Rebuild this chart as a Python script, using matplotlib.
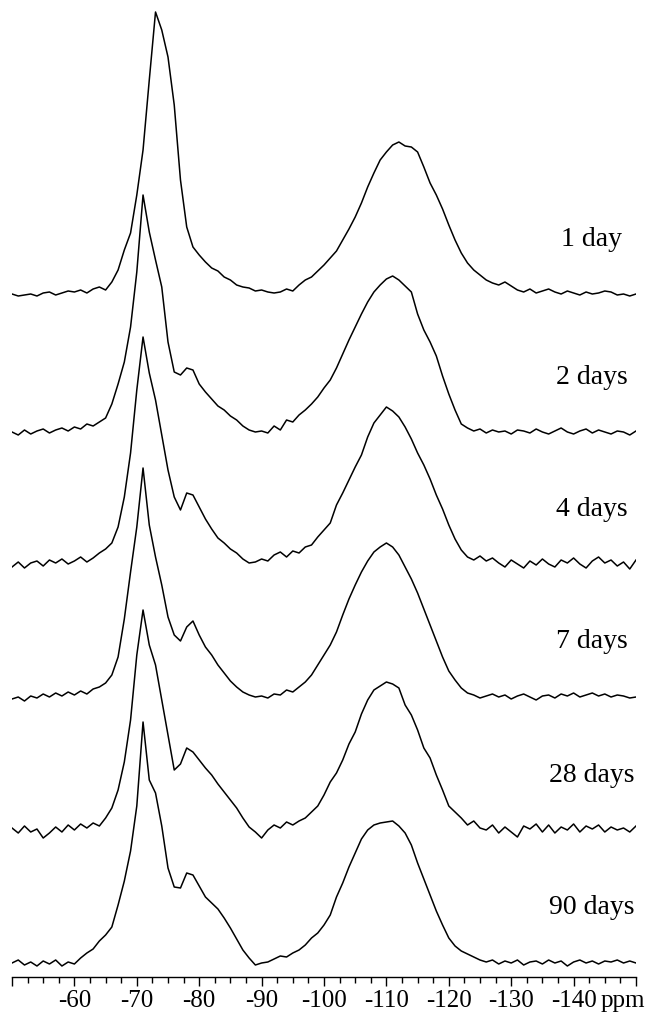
import numpy as np
import matplotlib.pyplot as plt
from matplotlib.ticker import MultipleLocator

# === chemical shift grid (ppm), 1 ppm steps from -50 to -150
ppm = np.arange(-50, -151, -1)

# === intensities (height above each baseline)
day1 = [1, -1, 0, 1, -1, 2, 3, 0, 2, 4, 3, 5, 2, 6, 8, 5, 13, 25, 45, 62,
        100, 145, 215, 283, 265, 238, 190, 115, 68, 48, 40, 33, 27, 24, 18, 15, 10, 8, 7, 4,
        5, 3, 2, 3, 6, 4, 10, 15, 18, 24, 30, 37, 44, 55, 66, 78, 92, 108, 122, 135,
        143, 150, 153, 149, 148, 143, 128, 112, 100, 86, 70, 55, 42, 32, 25, 20, 15, 12, 10, 13,
        9, 5, 3, 6, 2, 4, 6, 3, 1, 4, 2, 0, 3, 1, 2, 4, 3, 0, 1, -1, 1]
day2 = [0, -3, 2, -2, 1, 3, -1, 2, 4, 1, 5, 3, 8, 6, 10, 14, 28, 48, 70, 105,
        160, 237, 200, 172, 145, 90, 60, 57, 64, 62, 48, 40, 33, 26, 22, 16, 12, 6, 2, 0,
        1, -1, 6, 2, 12, 10, 17, 22, 28, 35, 44, 52, 64, 78, 92, 105, 118, 130, 140, 147,
        153, 156, 152, 146, 140, 118, 102, 90, 76, 56, 38, 22, 8, 4, 1, 3, -1, 2, 0, 1,
        -2, 2, 1, -1, 3, 0, -2, 1, 4, 0, -2, 1, 3, -1, 2, 0, -2, 1, 0, -3, 1]
day4 = [-2, 3, -3, 2, 4, -1, 5, 2, 6, 1, 4, 8, 3, 7, 12, 16, 22, 38, 68, 112,
        175, 228, 192, 165, 130, 95, 68, 55, 72, 70, 58, 46, 36, 27, 22, 16, 12, 6, 2, 3,
        6, 4, 10, 13, 8, 14, 12, 18, 20, 28, 35, 42, 60, 72, 85, 98, 110, 128, 142, 150,
        158, 154, 148, 138, 126, 112, 100, 86, 70, 56, 40, 26, 15, 8, 5, 9, 4, 7, 2, -2,
        5, 1, -3, 4, 0, 6, 1, -2, 5, 2, 7, 1, -3, 4, 8, 2, 5, -1, 3, -4, 5]
day7 = [-2, 0, -4, 1, -1, 3, 0, 4, 1, 5, 2, 6, 3, 8, 10, 14, 22, 40, 78, 125,
        170, 229, 172, 140, 112, 80, 62, 56, 70, 76, 62, 50, 42, 32, 24, 16, 10, 5, 2, 0,
        1, -1, 3, 2, 7, 5, 10, 15, 22, 32, 42, 52, 65, 82, 98, 112, 125, 136, 145, 150,
        154, 150, 142, 130, 118, 104, 88, 72, 56, 40, 26, 17, 9, 4, 2, -1, 1, 3, 0, 2,
        -2, 1, 3, 0, -3, 1, 2, -1, 3, 1, 4, 0, 2, 4, 1, 3, 0, 2, 1, -1, 0]
day28 = [2, -3, 4, -2, 1, -8, -3, 3, -2, 5, 0, 6, 2, 7, 4, 12, 22, 40, 68, 110,
         175, 220, 185, 165, 130, 95, 60, 66, 82, 78, 70, 62, 55, 46, 38, 30, 22, 12, 3, -2,
         -8, 0, 5, 2, 8, 5, 9, 12, 18, 24, 35, 48, 57, 70, 86, 98, 116, 130, 140, 144,
         148, 146, 142, 125, 115, 100, 82, 72, 55, 40, 24, 18, 12, 5, 9, 2, 0, 5, -3, 3,
         -2, -7, 4, 1, 6, -2, 5, -3, 3, 0, 6, -2, 4, 1, 5, -2, 3, 0, 2, -2, 4]
day90 = [0, 3, -2, 1, -3, 2, -1, 3, -3, 1, -1, 5, 10, 14, 22, 28, 36, 58, 82, 112,
         157, 241, 183, 170, 137, 95, 76, 75, 90, 88, 77, 66, 60, 54, 45, 35, 24, 13, 5, -2,
         0, 1, 4, 7, 6, 10, 13, 18, 25, 30, 38, 48, 66, 80, 96, 110, 124, 133, 138, 140,
         141, 142, 137, 130, 118, 100, 84, 68, 52, 38, 25, 17, 12, 9, 6, 3, 1, 3, -1, 2,
         0, 3, -2, 1, 2, -1, 3, 0, 2, -3, 1, 3, 0, 2, -1, 2, 1, 3, 0, 2, 0]

spectra = [day1, day2, day4, day7, day28, day90]
labels = ["1 day", "2 days", "4 days", "7 days", "28 days", "90 days"]

# === vertical stacking (baseline of each trace)
offsets = [682, 545, 412, 280, 147, 14]

plt.rcParams['axes.unicode_minus'] = False
serif = ['Liberation Serif', 'DejaVu Serif']

fig = plt.figure(figsize=(6.46, 10.19), dpi=100)
ax = fig.add_axes([12 / 646, 42 / 1019, 624 / 646, 977 / 1019])

for spec, off, lab in zip(spectra, offsets, labels):
    ax.plot(ppm, np.array(spec) + off, color='black', lw=1.1)
    ax.text(-142.9, off + 55, lab, ha='center', va='center',
            fontsize=20, family=serif)

ax.set_xlim(-50, -150)
ax.set_ylim(0, 977)

# === axis styling: only the bottom scale
for s in ['top', 'left', 'right']:
    ax.spines[s].set_visible(False)
ax.spines['bottom'].set_linewidth(1.0)
ax.set_yticks([])
ax.set_xticks(np.arange(-50, -151, -10))
ax.set_xticklabels(['' if t in (-50, -150) else str(t) for t in np.arange(-50, -151, -10)])
ax.xaxis.set_minor_locator(MultipleLocator(2.5))
ax.tick_params(axis='x', which='major', length=6.5, width=1.0, pad=3, labelsize=18)
ax.tick_params(axis='x', which='minor', length=4, width=1.0)
for t in ax.get_xticklabels():
    t.set_family(serif)

# unit label sits right after the last number, flush with the right edge
ax.annotate('ppm', xy=(1.0, 0), xycoords='axes fraction',
            xytext=(6.5, -9.5), textcoords='offset points',
            ha='right', va='top', fontsize=18, family=serif)

fig.savefig('out.png', dpi=100)
plt.close(fig)
